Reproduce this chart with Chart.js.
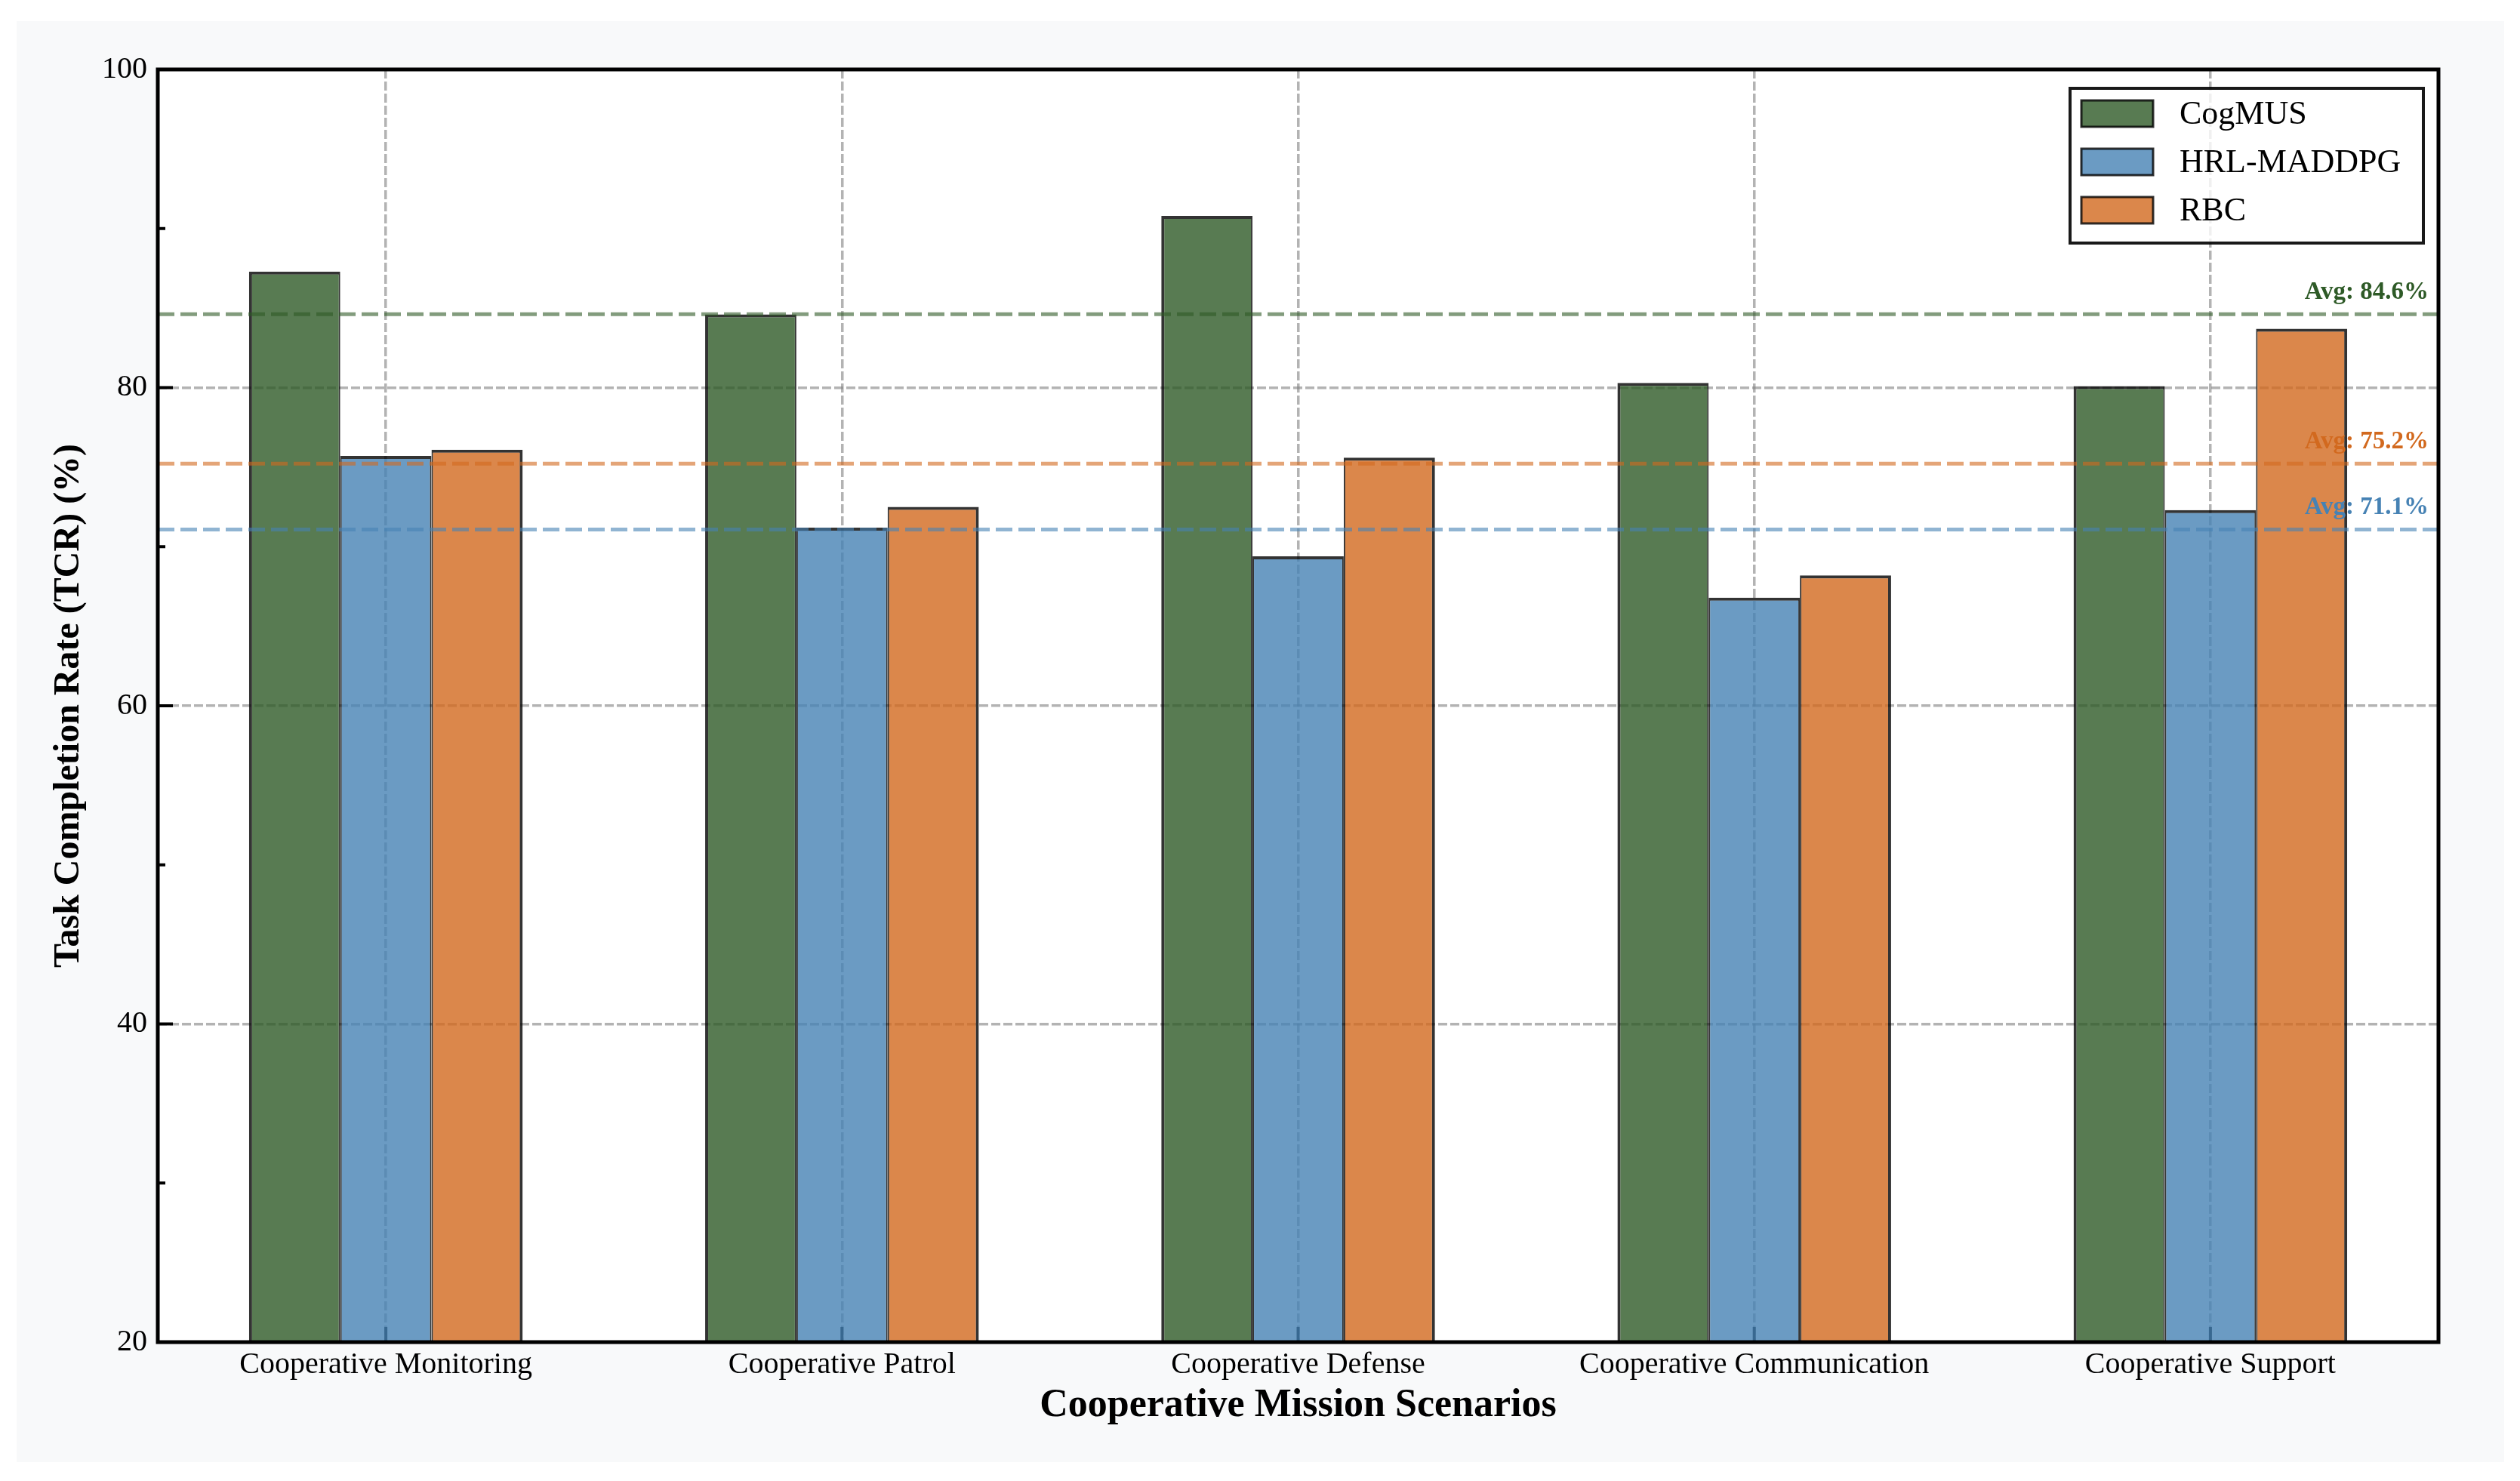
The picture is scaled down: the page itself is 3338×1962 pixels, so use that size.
<!DOCTYPE html>
<html lang="en">
<head>
<meta charset="UTF-8">
<title>Task Completion Rate by Scenario</title>
<script src="https://cdn.jsdelivr.net/npm/chart.js"></script>
<style>
    body { margin: 0; background: #fff; }
    .fig {
        position: absolute;
        left: 22px;
        top: 28px;
        width: 3295px;
        height: 1909px;
        background: #f8f9fa;
    }
</style>
</head>
<body>
<div class="fig"><canvas id="tcrChart"></canvas></div>
<script>
const scenarios = ['Cooperative Monitoring', 'Cooperative Patrol', 'Cooperative Defense', 'Cooperative Communication', 'Cooperative Support'];
const methods = ['CogMUS', 'HRL-MADDPG', 'RBC'];
const cogmus = [87.3, 84.6, 90.8, 80.3, 80.1];
const hrlMaddpg = [75.7, 71.2, 69.4, 66.8, 72.3];
const rbc = [76.1, 72.5, 75.6, 68.2, 83.7];
const yTicks = [20, 40, 60, 80, 100];
const yMinorTicks = [30, 50, 70, 90];

const seriesValues = [cogmus, hrlMaddpg, rbc];
const seriesColors = ['#2E5A27', '#4682B4', '#D2691E'];
const FONT = "'Liberation Serif', 'Times New Roman', serif";

function withAlpha(hex, a) {
    const n = parseInt(hex.slice(1), 16);
    return `rgba(${(n >> 16) & 255},${(n >> 8) & 255},${n & 255},${a})`;
}

// outer bar edges 4px, shared edges 2+2
const sideWidths = [
    { top: 4, left: 4, right: 2, bottom: 0 },
    { top: 4, left: 2, right: 2, bottom: 0 },
    { top: 4, left: 2, right: 4, bottom: 0 }
];

function strokeLine(ctx, x1, y1, x2, y2) {
    ctx.beginPath();
    ctx.moveTo(x1, y1);
    ctx.lineTo(x2, y2);
    ctx.stroke();
}

const decor = {
    id: 'decor',
    beforeDraw(chart) {
        const { ctx, chartArea: a } = chart;
        ctx.save();
        ctx.fillStyle = '#fff';
        ctx.fillRect(a.left, a.top, a.right - a.left, a.bottom - a.top);
        ctx.restore();
    },
    beforeDatasetsDraw(chart) {
        // inward tick marks
        const { ctx, chartArea: a, scales: { x, y } } = chart;
        ctx.save();
        ctx.strokeStyle = '#000';
        ctx.lineWidth = 4;
        yTicks.forEach(v => {
            const py = y.getPixelForValue(v);
            strokeLine(ctx, a.left, py, a.left + 20, py);
        });
        yMinorTicks.forEach(v => {
            const py = y.getPixelForValue(v);
            strokeLine(ctx, a.left, py, a.left + 10, py);
        });
        scenarios.forEach((s, i) => {
            const px = x.getPixelForValue(i);
            strokeLine(ctx, px, a.bottom, px, a.bottom - 20);
        });
        ctx.restore();
    },
    afterDatasetsDraw(chart) {
        const { ctx, chartArea: a, scales: { y } } = chart;
        ctx.save();
        // average lines + labels
        chart.data.datasets.forEach((ds, i) => {
            const avg = ds.data.reduce((s, v) => s + v, 0) / ds.data.length;
            const py = y.getPixelForValue(avg);
            ctx.setLineDash([22, 8]);
            ctx.lineWidth = 5;
            ctx.strokeStyle = withAlpha(seriesColors[i], 0.6);
            strokeLine(ctx, a.left, py, a.right, py);
            ctx.setLineDash([]);
            ctx.font = 'bold 33px ' + FONT;
            ctx.fillStyle = seriesColors[i];
            ctx.textAlign = 'right';
            ctx.textBaseline = 'alphabetic';
            ctx.fillText('Avg: ' + avg.toFixed(1) + '%', a.right - 13, py - 20);
        });

        // legend, top right inside the axes
        const box = { x: a.right - 488, y: a.top + 25, w: 468, h: 205 };
        ctx.fillStyle = 'rgba(255,255,255,0.8)';
        ctx.fillRect(box.x, box.y, box.w, box.h);
        ctx.lineWidth = 4;
        ctx.strokeStyle = 'rgba(0,0,0,0.9)';
        ctx.strokeRect(box.x, box.y, box.w, box.h);
        chart.data.datasets.forEach((ds, i) => {
            const cy = box.y + 33 + i * 64;
            ctx.fillStyle = ds.backgroundColor;
            ctx.fillRect(box.x + 15, cy - 17, 95, 35);
            ctx.lineWidth = 3;
            ctx.strokeStyle = 'rgba(0,0,0,0.8)';
            ctx.strokeRect(box.x + 15, cy - 17, 95, 35);
            ctx.fillStyle = '#000';
            ctx.font = '44px ' + FONT;
            ctx.textAlign = 'left';
            ctx.textBaseline = 'middle';
            ctx.fillText(ds.label, box.x + 145, cy + 2);
        });

        // axes frame
        ctx.lineWidth = 5;
        ctx.strokeStyle = '#000';
        ctx.strokeRect(a.left, a.top, a.right - a.left, a.bottom - a.top);
        ctx.restore();
    }
};

const ctx = document.getElementById('tcrChart').getContext('2d');
const tcrChart = new Chart(ctx, {
    type: 'bar',
    data: {
        labels: scenarios,
        datasets: methods.map((m, i) => ({
            label: m,
            data: seriesValues[i],
            backgroundColor: withAlpha(seriesColors[i], 0.8),
            borderColor: 'rgba(0,0,0,0.8)',
            borderWidth: sideWidths[i],
            base: 20,
            categoryPercentage: 0.6,
            barPercentage: 1.0
        }))
    },
    options: {
        responsive: true,
        maintainAspectRatio: false,
        devicePixelRatio: 1,
        animation: false,
        layout: { padding: { top: 64, right: 87, bottom: 0, left: 0 } },
        plugins: {
            legend: { display: false },
            tooltip: { enabled: false }
        },
        scales: {
            x: {
                grid: { offset: false, color: 'rgba(128,128,128,0.6)', lineWidth: 3.5, drawTicks: false },
                border: { display: false, dash: [12, 4] },
                ticks: { color: '#000', font: { family: FONT, size: 40 }, padding: 6 },
                title: {
                    display: true,
                    text: 'Cooperative Mission Scenarios',
                    color: '#000',
                    font: { family: FONT, size: 52, weight: 'bold' },
                    padding: { top: 0, bottom: 43 }
                },
                afterFit(s) { s.height = 159; }
            },
            y: {
                min: 20,
                max: 100,
                afterBuildTicks(s) { s.ticks = yTicks.map(v => ({ value: v })); },
                grid: { color: 'rgba(128,128,128,0.6)', lineWidth: 3.5, drawTicks: false },
                border: { display: false, dash: [12, 4] },
                ticks: { color: '#000', font: { family: FONT, size: 40 }, padding: 14 },
                title: {
                    display: true,
                    text: 'Task Completion Rate (TCR) (%)',
                    color: '#000',
                    font: { family: FONT, size: 48, weight: 'bold' },
                    padding: { top: 41, bottom: 0 }
                },
                afterFit(s) { s.width = 187; }
            }
        }
    },
    plugins: [decor]
});
</script>
</body>
</html>
